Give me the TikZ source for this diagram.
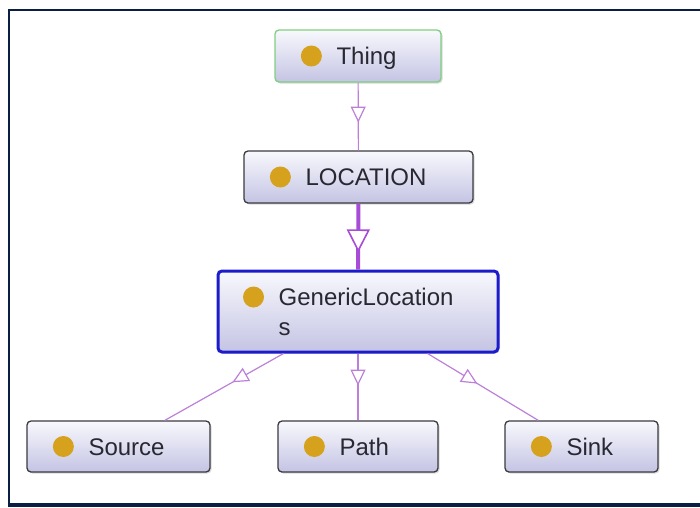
\documentclass[tikz,border=0pt]{standalone}
\usepackage{fontspec}
\setmainfont{Liberation Sans}
\usetikzlibrary{arrows.meta,decorations.markings,shadows}

\definecolor{framecol}{HTML}{0B1F45}
\definecolor{boxline}{HTML}{3A3A40}
\definecolor{boxtop}{HTML}{F8F8FD}
\definecolor{boxbot}{HTML}{C4C4E4}
\definecolor{rootline}{HTML}{7FCF7F}
\definecolor{selline}{HTML}{1C1CCC}
\definecolor{dotcol}{HTML}{D6A21E}
\definecolor{txtcol}{HTML}{282832}
\definecolor{isaline}{HTML}{BC80D8}
\definecolor{isathick}{HTML}{A74CD6}

\begin{document}
\begin{tikzpicture}[x=1pt,y=-1pt,
  cls/.style={draw=boxline, line width=1.3pt, rounded corners=4pt,
    top color=boxtop, bottom color=boxbot, inner sep=0pt,
    drop shadow={shadow xshift=1.5pt, shadow yshift=-1.5pt, opacity=0.3}},
  rootcls/.style={cls, draw=rootline},
  selcls/.style={cls, draw=selline, line width=3pt},
  dotmark/.style={circle, fill=dotcol, inner sep=0pt, minimum size=21pt},
  lbl/.style={inner sep=0pt, text=txtcol, align=left,
    font=\fontsize{24}{30}\selectfont},
  isa/.style={draw=isaline, line width=1.2pt,
    postaction={decorate, decoration={markings,
      mark=at position #1 with {\arrow[isaline]{Triangle[fill=white, length=16pt, width=15pt, line width=1.2pt]}}}}},
  isabold/.style={draw=isathick, line width=4pt,
    postaction={decorate, decoration={markings,
      mark=at position #1 with {\arrow[isathick]{Triangle[fill=white, length=23pt, width=23pt, line width=1.6pt]}}}}}
]
\useasboundingbox (0,0) rectangle (700,507);

% window frame
\draw[framecol, line width=2.5pt] (700,10) -- (9,10) -- (9,504);
\fill[framecol] (8,502.5) rectangle (700,507);

% class boxes
\node[rootcls, minimum width=166pt, minimum height=52pt] (thing) at (358,56) {};
\node[cls, minimum width=229pt, minimum height=52pt] (location) at (358.5,177) {};
\node[selcls, minimum width=280pt, minimum height=81pt] (generic) at (358,311.5) {};
\node[cls, minimum width=183pt, minimum height=51pt] (source) at (118.5,446.5) {};
\node[cls, minimum width=160pt, minimum height=51pt] (path) at (358,446.5) {};
\node[cls, minimum width=153pt, minimum height=51pt] (sink) at (581.5,446.5) {};

% class markers and names
\node[dotmark] (thing-dot) at ([xshift=37pt]thing.west) {};
\node[lbl, anchor=base west] (thing-lbl) at ([xshift=62pt,yshift=-8.5pt]thing.west) {Thing};

\node[dotmark] (location-dot) at ([xshift=37pt]location.west) {};
\node[lbl, anchor=base west] (location-lbl) at ([xshift=62pt,yshift=-8.5pt]location.west) {LOCATION};

% the base of a two-line name is that of its last line
\node[dotmark] (generic-dot) at ([xshift=37pt,yshift=14.5pt]generic.west) {};
\node[lbl, anchor=base west] (generic-lbl) at ([xshift=62pt,yshift=-23.5pt]generic.west) {GenericLocation\\s};

\node[dotmark] (source-dot) at ([xshift=37pt]source.west) {};
\node[lbl, anchor=base west] (source-lbl) at ([xshift=62pt,yshift=-8.5pt]source.west) {Source};

\node[dotmark] (path-dot) at ([xshift=37pt]path.west) {};
\node[lbl, anchor=base west] (path-lbl) at ([xshift=62pt,yshift=-8.5pt]path.west) {Path};

\node[dotmark] (sink-dot) at ([xshift=37pt]sink.west) {};
\node[lbl, anchor=base west] (sink-lbl) at ([xshift=62pt,yshift=-8.5pt]sink.west) {Sink};

% subclass links
\path[isa=0.59] (thing) -- (location);
\path[isabold=0.74] (location) -- (generic);
\path[isa=0.43] (generic) -- (source);
\path[isa=0.48] (generic) -- (path);
\path[isa=0.45] (generic) -- (sink);
\end{tikzpicture}
\end{document}
